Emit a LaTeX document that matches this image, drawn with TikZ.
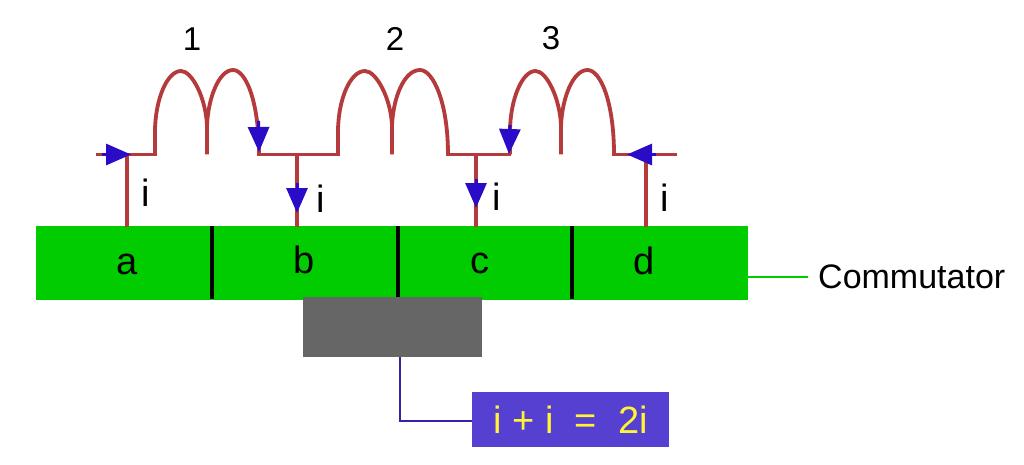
\documentclass[tikz,border=0pt]{standalone}
\usepackage{fontspec}
\setmainfont{Liberation Sans}
\usetikzlibrary{arrows.meta}
\definecolor{wire}{HTML}{B43A3C}
\definecolor{tipblue}{HTML}{2A0CC8}
\definecolor{segg}{HTML}{00CC00}
\definecolor{brushg}{HTML}{666666}
\definecolor{boxp}{HTML}{5540D2}
\definecolor{linkp}{HTML}{3A1FA8}
\definecolor{txty}{HTML}{FFF533}
% #1 left foot, #2 middle, #3 right foot
\newcommand{\coilpath}[3]{%
 \draw[wirest] (#1,154.5) -- (#1,132) .. controls (#1,100) and (#1+12,71) .. ({(#1+#2)/2},71)
   .. controls ({(#1+#2)/2+11},71) and (#2-1,98) .. (#2,126) -- (#2,154.5);
 \draw[wirest] (#2,126) .. controls (#2+1,98) and (#2+12,70) .. ({(#2+#3)/2},70)
   .. controls ({(#2+#3)/2+13},70) and (#3,102) .. (#3,154.5);
}
\tikzset{
 wirest/.style={draw=wire,line width=3.8pt},
 flow/.style={draw=tipblue,line width=3pt,-{Triangle[length=25pt,width=21pt,fill=tipblue]}},
 lbl/.style={font=\fontsize{34pt}{38pt}\selectfont,text=black,inner sep=0pt},
 seg/.style={draw=black,line width=3.4pt},
 x=1pt,y=-1pt
}
\begin{document}
\begin{tikzpicture}
\useasboundingbox (0,0) rectangle (1024,465);
\fill[white] (0,0) rectangle (1024,465);
% commutator
\node[fill=segg,inner sep=0pt,minimum width=712pt,minimum height=74pt,anchor=north west] (comm) at (36,226) {};
\coordinate (d1t) at (212,226); \coordinate (d1b) at (212,299);
\coordinate (d2t) at (398,226); \coordinate (d2b) at (398,299);
\coordinate (d3t) at (572,226); \coordinate (d3b) at (572,299);
\draw[seg] (d1t) -- (d1b);
\draw[seg] (d2t) -- (d2b);
\draw[seg] (d3t) -- (d3b);
% brush
\node[fill=brushg,inner sep=0pt,minimum width=179pt,minimum height=60pt,anchor=north west] (brush) at (303,297) {};
% result
\node[fill=boxp,inner sep=0pt,minimum width=197pt,minimum height=55pt,anchor=north west,text=txty,font=\fontsize{38pt}{42pt}\selectfont] (res) at (472,392) {i + i\ \ =\ \ 2i};
\coordinate (bend) at (400,421);
\coordinate (brushout) at (400,357);
\draw[linkp,line width=2.6pt] (brushout) -- (bend) -- (res.west |- bend);
% commutator label
\node[lbl,anchor=west] (clabel) at (818,277) {Commutator};
\coordinate (cl) at (808,277);
\draw[segg,line width=1.8pt] (cl) -- (748,277);
% segment labels
\node[lbl,font=\fontsize{38pt}{42pt}\selectfont] (la) at (127,264) {a};
\node[lbl,font=\fontsize{38pt}{42pt}\selectfont] (lb) at (304,260) {b};
\node[lbl,font=\fontsize{38pt}{42pt}\selectfont] (lc) at (480,263) {c};
\node[lbl,font=\fontsize{38pt}{42pt}\selectfont] (ld) at (644,261) {d};
% coils
\coilpath{155}{207}{259}
\coilpath{338}{392}{448}
\coilpath{510}{561}{614}
\node[lbl,font=\fontsize{33pt}{36pt}\selectfont] (n1) at (192,39) {1};
\node[lbl,font=\fontsize{33pt}{36pt}\selectfont] (n2) at (395,39) {2};
\node[lbl,font=\fontsize{33pt}{36pt}\selectfont] (n3) at (551,38) {3};
% leads
\coordinate (j1) at (127,154.5); \coordinate (j2) at (297,154.5);
\coordinate (j3) at (476,154.5); \coordinate (j4) at (646,154.5);
\coordinate (s1) at (127,227); \coordinate (s2) at (297,227);
\coordinate (s3) at (476,227); \coordinate (s4) at (646,227);
\coordinate (w1) at (96,154.5); \coordinate (e1) at (157,154.5);
\coordinate (w2) at (257,154.5); \coordinate (e2) at (340,154.5);
\coordinate (w3) at (446,154.5); \coordinate (e3) at (511,154.5);
\coordinate (w4) at (612,154.5); \coordinate (e4) at (677,154.5);
\draw[wirest] (w1) -- (e1);
\draw[wirest] (w2) -- (e2);
\draw[wirest] (w3) -- (e3);
\draw[wirest] (w4) -- (e4);
\draw[wirest] (j1) -- (s1);
\draw[wirest] (j2) -- (s2);
\draw[wirest] (j3) -- (s3);
\draw[wirest] (j4) -- (s4);
% arrows
\coordinate (a1s) at (102,154.5); \coordinate (a1e) at (131,154.5);
\coordinate (a2s) at (258.5,121); \coordinate (a2e) at (259,152);
\coordinate (a3s) at (297,183); \coordinate (a3e) at (297,213);
\coordinate (a4s) at (476,179); \coordinate (a4e) at (476,208);
\coordinate (a5s) at (510,125); \coordinate (a5e) at (509,154);
\coordinate (a6s) at (656,154.5); \coordinate (a6e) at (627,154.5);
\draw[flow] (a1s) -- (a1e);
\draw[flow] (a2s) -- (a2e);
\draw[flow] (a3s) -- (a3e);
\draw[flow] (a4s) -- (a4e);
\draw[flow] (a5s) -- (a5e);
\draw[flow] (a6s) -- (a6e);
% current labels
\node[lbl,font=\fontsize{38pt}{42pt}\selectfont] (i1) at (146,193) {i};
\node[lbl,font=\fontsize{38pt}{42pt}\selectfont] (i2) at (321,199) {i};
\node[lbl,font=\fontsize{38pt}{42pt}\selectfont] (i3) at (497,197) {i};
\node[lbl,font=\fontsize{38pt}{42pt}\selectfont] (i4) at (665,198) {i};
\end{tikzpicture}
\end{document}
